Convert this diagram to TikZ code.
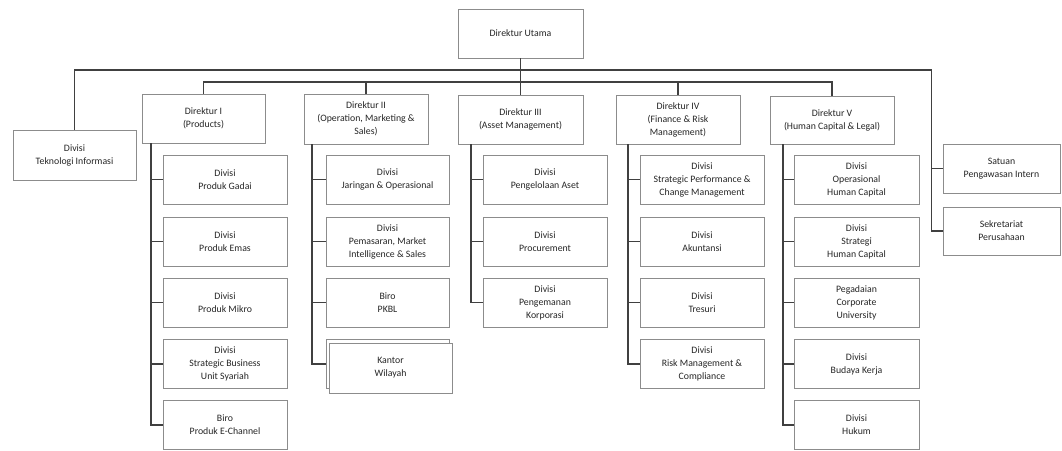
\documentclass[tikz,border=0pt]{standalone}
\usepackage{fontspec}
\setmainfont{Carlito}
\begin{document}
\begin{tikzpicture}[x=1pt,y=-1pt,
  bx/.style={draw=black!45, line width=0.8pt, fill=white, align=center, inner sep=1pt,
    font=\fontsize{9.8}{13}\selectfont, text=black!85, minimum width=124pt, minimum height=49pt},
  ln/.style={draw=black!75, line width=1.3pt}]
\useasboundingbox (0,0) rectangle (1062,450);
% top level
\node[bx, minimum width=125pt] (du) at (520.5,33.5) {Direktur Utama};
\node[bx, minimum width=123pt, minimum height=50pt] (ti) at (74.5,155) {Divisi\\Teknologi Informasi};
\node[bx, minimum width=123pt] (d1) at (203.5,118.5) {Direktur I\\(Products)};
\node[bx, minimum height=50pt] (d2) at (366,119) {Direktur II\\(Operation, Marketing \&\\Sales)};
\node[bx, minimum width=125pt] (d3) at (520.5,119.5) {Direktur III\\(Asset Management)};
\node[bx] (d4) at (678,119.5) {Direktur IV\\(Finance \& Risk\\Management)};
\node[bx, minimum height=48pt] (d5) at (832,120) {Direktur V\\(Human Capital \& Legal)};
\node[bx, minimum width=117pt] (spi) at (1001.5,168.5) {Satuan\\Pengawasan Intern};
\node[bx, minimum width=117pt, minimum height=48pt] (sek) at (1001.5,231) {Sekretariat\\Perusahaan};
% column 1
\node[bx] (a1) at (225,179.5) {Divisi\\Produk Gadai};
\node[bx] (a2) at (225,241.5) {Divisi\\Produk Emas};
\node[bx] (a3) at (225,302.5) {Divisi\\Produk Mikro};
\node[bx] (a4) at (225,364) {Divisi\\Strategic Business\\Unit Syariah};
\node[bx] (a5) at (225,425) {Biro\\Produk E-Channel};
% column 2
\node[bx, minimum width=123pt] (b1) at (387.5,179.5) {Divisi\\Jaringan \& Operasional};
\node[bx, minimum width=123pt] (b2) at (387.5,241.5) {Divisi\\Pemasaran, Market\\Intelligence \& Sales};
\node[bx, minimum width=123pt] (b3) at (387.5,302.5) {Biro\\PKBL};
\node[bx, minimum width=123pt] (b4) at (387.5,364) {};
\node[bx, minimum width=123pt, minimum height=50pt] (b4f) at (390.5,368) {Kantor\\Wilayah};
% column 3
\node[bx] (c1) at (545,179.5) {Divisi\\Pengelolaan Aset};
\node[bx] (c2) at (545,241.5) {Divisi\\Procurement};
\node[bx] (c3) at (545,302.5) {Divisi\\Pengemanan\\Korporasi};
% column 4
\node[bx] (e1) at (702,179.5) {Divisi\\Strategic Performance \&\\Change Management};
\node[bx] (e2) at (702,241.5) {Divisi\\Akuntansi};
\node[bx] (e3) at (702,302.5) {Divisi\\Tresuri};
\node[bx] (e4) at (702,364) {Divisi\\Risk Management \&\\Compliance};
% column 5
\node[bx, minimum width=125pt] (f1) at (856.5,179.5) {Divisi\\Operasional\\Human Capital};
\node[bx, minimum width=125pt] (f2) at (856.5,241.5) {Divisi\\Strategi\\Human Capital};
\node[bx, minimum width=125pt] (f3) at (856.5,302.5) {Pegadaian\\Corporate\\University};
\node[bx, minimum width=125pt] (f4) at (856.5,364) {Divisi\\Budaya Kerja};
\node[bx, minimum width=125pt] (f5) at (856.5,425) {Divisi\\Hukum};
% connectors
\coordinate (ob) at (931.5,70);
\coordinate (ib) at (0,82);
\draw[ln] (du.south) -- (d3.north);
\draw[ln] (ti.north) |- (ob) |- (sek.west);
\draw[ln] (ob |- spi.west) -- (spi.west);
\draw[ln] (d1.north) -- (d1.north |- ib) -- (d5.north |- ib) -- (d5.north);
\draw[ln] (d2.north) -- (d2.north |- ib);
\draw[ln] (d4.north) -- (d4.north |- ib);
% spines
\coordinate (s1) at (151,0);
\coordinate (s2) at (312,0);
\coordinate (s3) at (471,0);
\coordinate (s4) at (628,0);
\coordinate (s5) at (783,0);
\draw[ln] (s1 |- d1.south) |- (a5.west);
\foreach \n in {a1,a2,a3,a4} \draw[ln] (s1 |- \n.west) -- (\n.west);
\draw[ln] (s2 |- d2.south) |- (b4.west);
\foreach \n in {b1,b2,b3} \draw[ln] (s2 |- \n.west) -- (\n.west);
\draw[ln] (s3 |- d3.south) |- (c3.west);
\foreach \n in {c1,c2} \draw[ln] (s3 |- \n.west) -- (\n.west);
\draw[ln] (s4 |- d4.south) |- (e4.west);
\foreach \n in {e1,e2,e3} \draw[ln] (s4 |- \n.west) -- (\n.west);
\draw[ln] (s5 |- d5.south) |- (f5.west);
\foreach \n in {f1,f2,f3,f4} \draw[ln] (s5 |- \n.west) -- (\n.west);
\end{tikzpicture}
\end{document}
